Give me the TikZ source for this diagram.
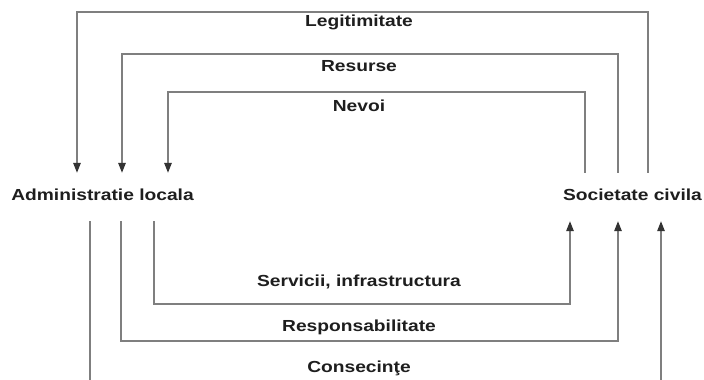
\documentclass[tikz,border=0pt]{standalone}
\usepackage{fontspec}
\setmainfont[FakeStretch=1.2]{Liberation Sans}
\usetikzlibrary{arrows.meta}
\definecolor{linegray}{HTML}{7F7F7F}
\definecolor{txt}{HTML}{1E1E1E}
\tikzset{
  conn/.style={draw=linegray, line width=1.3pt},
  arr/.style={conn, -{Triangle[length=10pt,width=7.5pt,fill=black!80,color=black!80]}},
  actor/.style={font=\fontsize{16}{19}\selectfont\bfseries, text=txt, inner xsep=0pt,
     minimum height=48pt, text height=11pt, text depth=4pt},
  lbl/.style={font=\fontsize{16}{19}\selectfont\bfseries, text=txt, inner sep=0pt, anchor=base}
}
\begin{document}
\begin{tikzpicture}[x=1pt,y=-1pt]
\useasboundingbox (0,0) rectangle (704,380);
\clip (0,0) rectangle (704,380);
\fill[white] (0,0) rectangle (704,380);
% actors
\node[actor] (admin) at (102.5,197) {Administratie locala};
\node[actor] (soc) at (632.5,197) {Societate civila};
% column and row coordinates
\coordinate (L1) at (77,0);
\coordinate (L2) at (122,0);
\coordinate (L3) at (168,0);
\coordinate (R1) at (585,0);
\coordinate (R2) at (618,0);
\coordinate (R3) at (648,0);
\coordinate (BL1) at (90,0);
\coordinate (BL2) at (121,0);
\coordinate (BL3) at (154,0);
\coordinate (BR1) at (570,0);
\coordinate (BR2) at (618,0);
\coordinate (BR3) at (661,0);
\coordinate (T1) at (0,12);
\coordinate (T2) at (0,54);
\coordinate (T3) at (0,92);
\coordinate (B1) at (0,304);
\coordinate (B2) at (0,341);
\coordinate (B3) at (0,400);
% top flows: societate -> administratie
\draw[arr] (soc.north -| R3) -- (R3 |- T1) -| (admin.north -| L1);
\draw[arr] (soc.north -| R2) -- (R2 |- T2) -| (admin.north -| L2);
\draw[arr] (soc.north -| R1) -- (R1 |- T3) -| (admin.north -| L3);
% bottom flows: administratie -> societate
\draw[arr] (admin.south -| BL3) -- (BL3 |- B1) -| (soc.south -| BR1);
\draw[arr] (admin.south -| BL2) -- (BL2 |- B2) -| (soc.south -| BR2);
\draw[arr] (admin.south -| BL1) -- (BL1 |- B3) -| (soc.south -| BR3);
% labels
\node[lbl] (l1) at (359,27) {Legitimitate};
\node[lbl] (l2) at (359,71) {Resurse};
\node[lbl] (l3) at (359,111) {Nevoi};
\node[lbl] (l4) at (359,286) {Servicii, infrastructura};
\node[lbl] (l5) at (359,331) {Responsabilitate};
\node[lbl] (l6) at (359,372) {Consecinţe};
\end{tikzpicture}
\end{document}
